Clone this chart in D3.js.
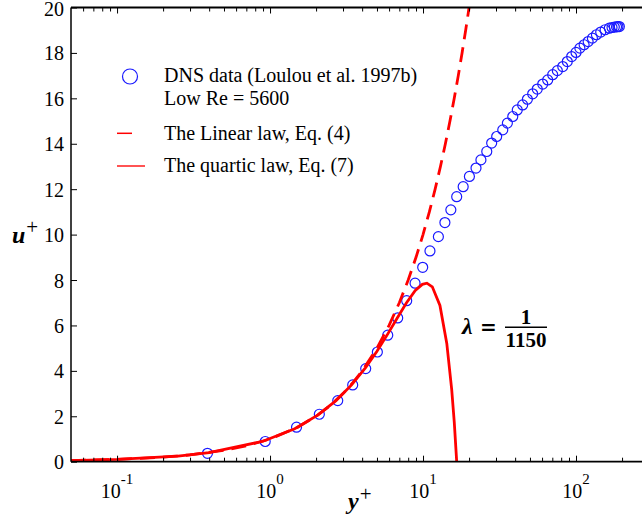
<!DOCTYPE html>
<html lang="en">
<head>
  <meta charset="utf-8">
  <title>u+ vs y+</title>
  <script src="https://d3js.org/d3.v7.min.js"></script>
  <style>
    body { margin: 0; background: #fff; }
    svg text { font-family: "Liberation Serif", "Times New Roman", serif; fill: #000; }
  </style>
</head>
<body>
<div class="chart"></div>

<script type="text/javascript">

// DNS data
var dnsYPlus = [0.39, 0.93, 1.49, 2.10, 2.77, 3.47, 4.22, 5.03, 5.88, 6.83, 7.82, 8.87, 9.95, 11.1, 12.6, 13.9,
  15.2, 16.6, 18.3, 20.1, 22.2, 23.9, 26.1, 28.1, 30.3, 33.2, 35.6, 38.6, 41.3, 44.8, 48.1, 52.1, 55.8, 60.6,
  65.3, 70.4, 75.5, 81.9, 87.7, 93.7, 100, 106, 113, 120, 128, 136, 145, 155, 165, 172, 178, 184, 188, 192];
var dnsUPlus = [0.37, 0.89, 1.52, 2.09, 2.69, 3.38, 4.10, 4.83, 5.57, 6.33, 7.09, 7.86, 8.56, 9.28, 9.91, 10.53,
  11.09, 11.67, 12.11, 12.56, 12.93, 13.29, 13.66, 14.03, 14.32, 14.61, 14.91, 15.20, 15.49, 15.71, 15.96, 16.20,
  16.41, 16.63, 16.81, 17.04, 17.22, 17.40, 17.62, 17.84, 18.02, 18.21, 18.36, 18.50, 18.65, 18.80, 18.92, 19.02,
  19.09, 19.12, 19.14, 19.15, 19.16, 19.16];

// linear law (dashed)
var linYPlus = [0.05, 0.1, 0.2, 0.3, 0.5, 0.7, 1, 1.5, 2, 2.5, 3, 3.5, 4, 5, 6, 7, 8, 9, 10, 11, 12, 13, 14, 15, 16, 17, 18, 19, 20, 21];
var linUPlus = [0.05, 0.1, 0.2, 0.3, 0.5, 0.7, 1, 1.5, 2, 2.5, 3, 3.5, 4, 5, 6, 7, 8, 9, 10, 11, 12, 13, 14, 15, 16, 17, 18, 19, 20, 21];

// quartic law (solid)
var quartYPlus = [0.05, 0.1, 0.25, 0.4, 0.9, 1.45, 2.05, 2.7, 3.4, 4.2, 5.0, 5.9, 6.8, 7.8, 8.9, 9.9, 10.6, 11.5, 12.9, 14.3, 15.4, 16.0, 16.6];
var quartUPlus = [0.05, 0.1, 0.25, 0.4, 0.9, 1.45, 2.05, 2.69, 3.37, 4.13, 4.86, 5.64, 6.34, 7.0, 7.54, 7.81, 7.86, 7.70, 6.88, 5.21, 3.17, 1.75, 0];

var yTicks = [0, 2, 4, 6, 8, 10, 12, 14, 16, 18, 20];
var xMajorTicks = [0.1, 1, 10, 100];
var xMajorExp = ["-1", "0", "1", "2"];
var xMinorTicks = [0.06, 0.07, 0.08, 0.09, 0.2, 0.3, 0.4, 0.5, 0.6, 0.7, 0.8, 0.9,
  2, 3, 4, 5, 6, 7, 8, 9, 20, 30, 40, 50, 60, 70, 80, 90, 200];

var legendLabels = ["DNS data (Loulou et al. 1997b)", "Low Re = 5600", "The Linear law, Eq. (4)", "The quartic law, Eq. (7)"];

var width = 642,
    height = 524,
    plotLeft = 71,
    plotRight = 642,
    plotTop = 7.5,
    plotBottom = 461.7;

var svg = d3.select(".chart").append("svg")
    .attr("width", width)
    .attr("height", height);

var x = d3.scaleLog().domain([0.05, 270]).range([plotLeft, plotRight]);
var y = d3.scaleLinear().domain([0, 20]).range([plotBottom, plotTop]);

svg.append("clipPath").attr("id", "clip")
  .append("rect")
    .attr("x", plotLeft).attr("y", plotTop)
    .attr("width", plotRight - plotLeft).attr("height", plotBottom - plotTop);

var plot = svg.append("g").attr("clip-path", "url(#clip)");

var dns = dnsYPlus.map(function(d, i) { return {yp: d, up: dnsUPlus[i]}; });
var lin = linYPlus.map(function(d, i) { return {yp: d, up: linUPlus[i]}; });
var quart = quartYPlus.map(function(d, i) { return {yp: d, up: quartUPlus[i]}; });

var line = d3.line()
    .x(function(d) { return x(d.yp); })
    .y(function(d) { return y(d.up); });

plot.selectAll("circle")
    .data(dns)
    .enter()
    .append("circle")
    .attr("cx", function(d) { return x(d.yp); })
    .attr("cy", function(d) { return y(d.up); })
    .attr("r", 5)
    .style("fill", "none")
    .style("stroke", "#1a1aff")
    .style("stroke-width", 1.2);

plot.append("path")
    .datum(lin)
    .attr("d", line)
    .style("fill", "none")
    .style("stroke", "#ff0000")
    .style("stroke-width", 2.8)
    .style("stroke-dasharray", "15,8");

plot.append("path")
    .datum(quart)
    .attr("d", line)
    .style("fill", "none")
    .style("stroke", "#ff0000")
    .style("stroke-width", 2.8);

// axes
function styleAxis(g) {
  g.selectAll(".domain").remove();
  g.selectAll("line").style("stroke", "#000").style("stroke-width", 1);
}

svg.append("g")
    .attr("transform", "translate(" + plotLeft + ",0)")
    .call(d3.axisLeft(y).tickValues(yTicks).tickSizeInner(-6).tickSizeOuter(0).tickPadding(7))
    .call(styleAxis)
    .selectAll("text")
    .style("font-size", "20px")
    .attr("dy", function(d) { return d === 20 ? "0.42em" : "0.35em"; });

svg.append("g")
    .attr("transform", "translate(0," + plotBottom + ")")
    .call(d3.axisBottom(x).tickValues(xMajorTicks).tickSizeInner(-6).tickSizeOuter(0).tickFormat(""))
    .call(styleAxis);
svg.append("g")
    .attr("transform", "translate(0," + plotBottom + ")")
    .call(d3.axisBottom(x).tickValues(xMinorTicks).tickSizeInner(-4).tickSizeOuter(0).tickFormat(""))
    .call(styleAxis);
svg.append("g")
    .attr("transform", "translate(0," + plotTop + ")")
    .call(d3.axisTop(x).tickValues(xMajorTicks).tickSizeInner(-6).tickSizeOuter(0).tickFormat(""))
    .call(styleAxis);
svg.append("g")
    .attr("transform", "translate(0," + plotTop + ")")
    .call(d3.axisTop(x).tickValues(xMinorTicks).tickSizeInner(-4).tickSizeOuter(0).tickFormat(""))
    .call(styleAxis);

// frame lines
svg.append("line").attr("x1", plotLeft).attr("x2", plotLeft).attr("y1", plotTop).attr("y2", plotBottom)
    .style("stroke", "#000").style("stroke-width", 1.5);
svg.append("line").attr("x1", plotLeft).attr("x2", plotRight).attr("y1", plotBottom).attr("y2", plotBottom)
    .style("stroke", "#000").style("stroke-width", 1.8);
svg.append("line").attr("x1", plotLeft).attr("x2", plotRight).attr("y1", plotTop).attr("y2", plotTop)
    .style("stroke", "#000").style("stroke-width", 1.8);

var xLabels = svg.selectAll(".xlab")
    .data(xMajorTicks)
    .enter()
    .append("text")
    .attr("class", "xlab")
    .attr("x", function(d) { return x(d); })
    .attr("y", 498)
    .attr("text-anchor", "middle")
    .style("font-size", "20px");
xLabels.append("tspan").text("10");
xLabels.append("tspan")
    .attr("dy", -14)
    .style("font-size", "15px")
    .text(function(d, i) { return xMajorExp[i]; });

// axis titles
var uLab = svg.append("text").attr("x", 12).attr("y", 243);
uLab.append("tspan").text("u").style("font-size", "24px").style("font-weight", "bold").style("font-style", "italic");
uLab.append("tspan").text("+").attr("dx", 1).attr("dy", -9).style("font-size", "21px");

var yLab = svg.append("text").attr("x", 348).attr("y", 509);
yLab.append("tspan").text("y").style("font-size", "24px").style("font-weight", "bold").style("font-style", "italic");
yLab.append("tspan").text("+").attr("dx", 1).attr("dy", -8).style("font-size", "21px");

// legend
svg.append("circle").attr("cx", 130).attr("cy", 76.5).attr("r", 7.5)
    .style("fill", "none").style("stroke", "#1a1aff").style("stroke-width", 1.2);
svg.append("text").attr("x", 164).attr("y", 82).style("font-size", "20px").text(legendLabels[0]);
svg.append("text").attr("x", 164).attr("y", 105).style("font-size", "20px").text(legendLabels[1]);
svg.append("line").attr("x1", 117).attr("x2", 132).attr("y1", 133.3).attr("y2", 133.3)
    .style("stroke", "#ff0000").style("stroke-width", 1.5);
svg.append("text").attr("x", 164).attr("y", 139.5).style("font-size", "20px").text(legendLabels[2]);
svg.append("line").attr("x1", 117).attr("x2", 145).attr("y1", 166).attr("y2", 166)
    .style("stroke", "#ff4040").style("stroke-width", 1.8);
svg.append("text").attr("x", 164).attr("y", 172).style("font-size", "20px").text(legendLabels[3]);

// lambda annotation
svg.append("text").attr("x", 462).attr("y", 334)
    .style("font-size", "24px").style("font-weight", "bold").style("font-style", "italic")
    .text("λ");
svg.append("text").attr("x", 480).attr("y", 334)
    .style("font-family", "DejaVu Serif").style("font-size", "20px").style("font-weight", "bold")
    .text("=");
svg.append("line").attr("x1", 505).attr("x2", 547).attr("y1", 327.3).attr("y2", 327.3)
    .style("stroke", "#000").style("stroke-width", 1.6);
svg.append("text").attr("x", 526).attr("y", 324).attr("text-anchor", "middle")
    .style("font-size", "21px").style("font-weight", "bold").text("1");
svg.append("text").attr("x", 526).attr("y", 346.5).attr("text-anchor", "middle")
    .style("font-size", "21px").style("font-weight", "bold").text("1150");

</script>
</body>
</html>
